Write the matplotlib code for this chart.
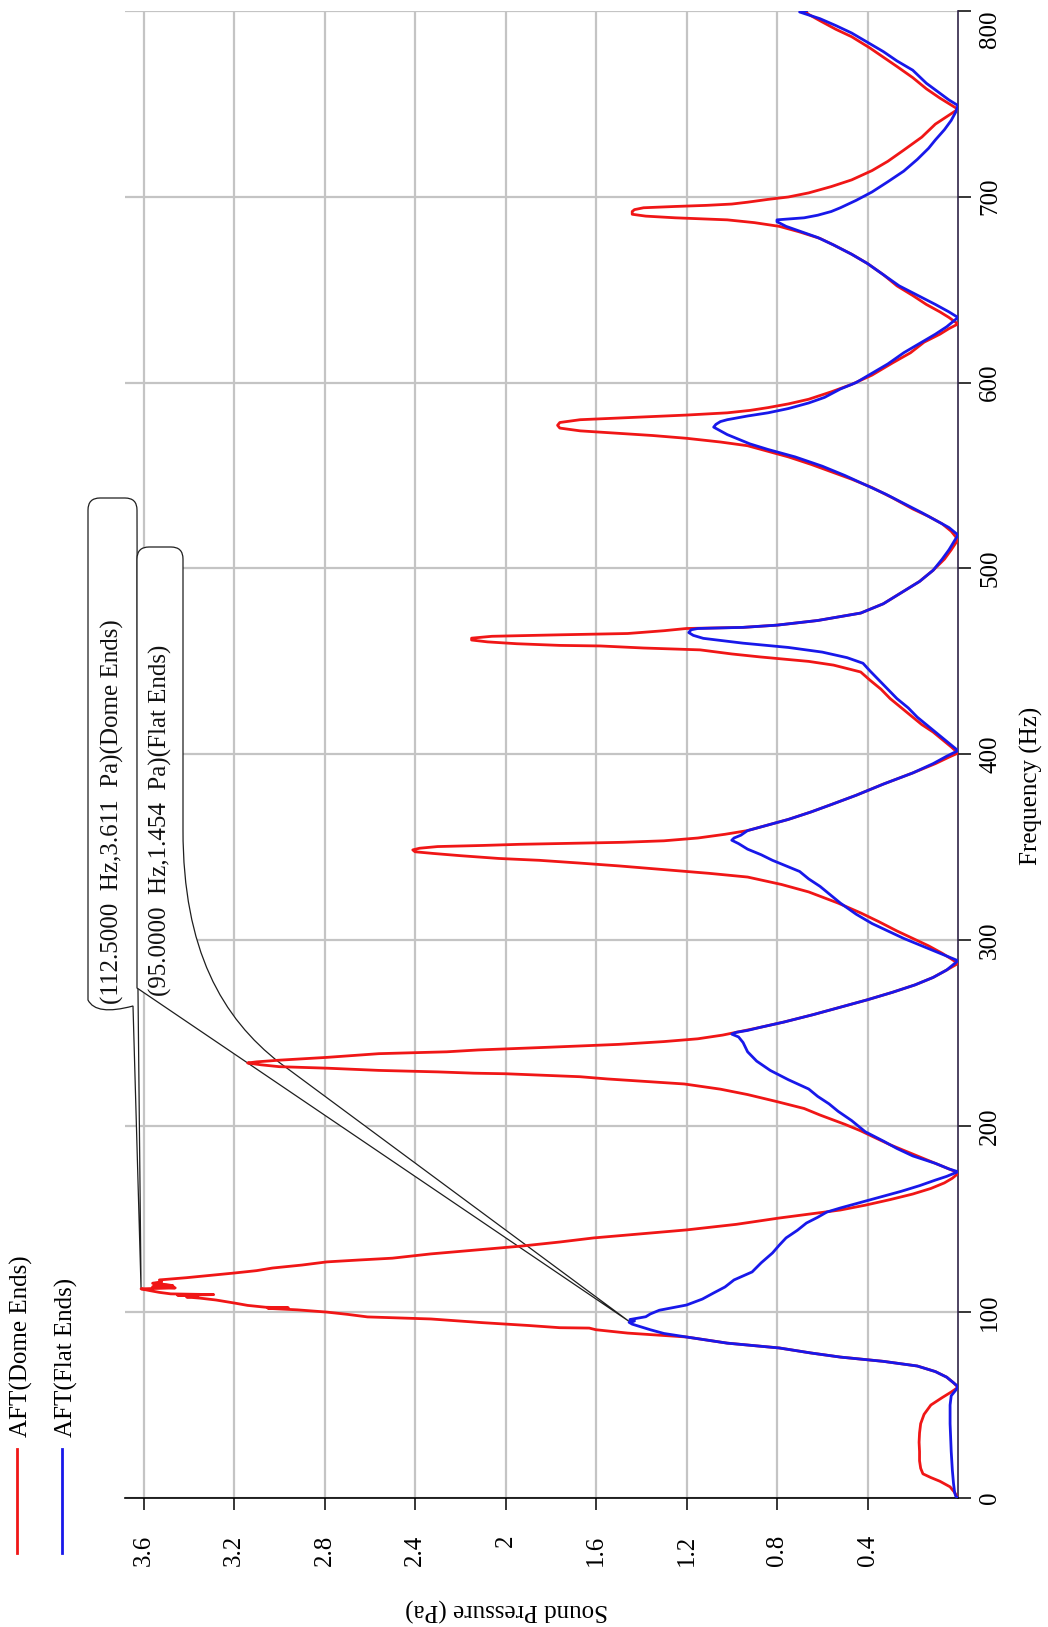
import matplotlib
matplotlib.use("Agg")
import matplotlib.pyplot as plt
from matplotlib.path import Path
from matplotlib.patches import PathPatch
from matplotlib.transforms import IdentityTransform
from matplotlib.lines import Line2D

plt.rcParams['font.family'] = ['Liberation Serif', 'DejaVu Serif']

# ---------------- data ----------------
series_names = ['AFT(Dome Ends)', 'AFT(Flat Ends)']

freq_dome = [0, 3, 6, 9, 11, 13, 16, 20, 25, 30, 35, 40, 45, 50, 54, 57, 59.5,
             62, 65, 68, 71, 73.5, 75.8, 78, 80.7, 83.3, 86.6, 88.7, 90.5, 91.4, 91.6, 92.8, 94.3,
             96.3, 97.4, 98.8, 100, 101.2, 102.0, 102.3, 102.6, 103.6, 104.9, 106.5, 107.5, 108.1,
             108.6, 109.1, 109.4, 109.8, 110.6, 111.5, 112.5, 113.0, 113.6, 114.2, 114.8, 115.5,
             116.3, 117.3, 118.5, 119.8, 121.0, 122.3, 123.7, 125.3, 127.0, 128.0, 129.0, 131.3,
             133.5, 135.5, 137.7, 139.9, 142.0, 144.2, 147.2, 150.6, 152.8, 154.9, 157.5, 160.5,
             163.5, 166.5, 169.5, 172.0, 174.5,
             176, 178, 182, 186, 190, 194, 197.5, 201, 206, 209.5, 213.2, 217, 219.9, 222.7, 224.2,
             225.4, 226.6, 227.5, 228.2, 228.5, 229.2, 230.0, 231.2, 232.0, 233.0, 234.0, 234.6,
             235.5, 237.0, 239.0, 240.0, 241.0, 242.5, 244.0, 245.5, 247.0, 249.0, 251.0, 253.0,
             256.0, 260.0, 264.0, 268.0, 272.0, 276.0, 280.0, 284.0, 287.5,
             290, 293, 297, 301, 305, 310, 314.7, 320, 326, 330, 334, 336, 338, 340, 341.5, 343,
             344, 345.5, 346.7, 347.6, 348.6, 349.5, 350.4, 351.0, 351.6, 352.2, 352.7, 353.5,
             355.0, 357.0, 359.0, 362.0, 365.0, 369.0, 373.0, 378.0, 384.0, 390.0, 395.0, 398.5, 400.7,
             404, 408, 412, 416, 420, 425, 430, 435, 440, 444.3, 448, 450, 452.4, 454, 456.2, 457.2,
             458.3, 458.6, 459.5, 460.5, 461.5, 462.5, 463.5, 464.3, 465.0, 466.5, 467.7, 468.3,
             469.5, 472, 476, 481, 487, 493, 499, 505, 510, 515.5,
             520, 524, 528, 532, 538, 543.5, 548, 552, 556, 560, 563, 566, 568, 570, 571.5, 572.5,
             574, 575.5, 577, 578.5, 580, 581, 581.5, 582.5, 583.7, 585, 586.5, 588.5, 591, 595,
             599, 604, 610.5, 616, 621.7, 626, 629, 631.5,
             635, 638, 642, 646.8, 652, 658, 664, 669, 674, 677.5, 681, 684, 686, 687.5, 688.6,
             689.5, 690.5, 692, 693, 694, 694.7, 695.3, 696, 697, 698.5, 699.8, 702, 705.4, 709,
             714, 719, 725, 732, 739, 743, 747,
             750, 753, 758, 764, 770, 775, 780, 786, 790, 794.6, 798, 800]
pres_dome = [0, 0.015, 0.035, 0.08, 0.12, 0.155, 0.165, 0.17, 0.17, 0.172, 0.17, 0.165, 0.15, 0.12, 0.07, 0.03, 0.0,
             0.02, 0.05, 0.1, 0.18, 0.33, 0.52, 0.65, 0.79, 1.02, 1.2, 1.46, 1.6, 1.63, 1.76, 1.9, 2.1,
             2.33, 2.61, 2.7, 2.79, 2.92, 3.05, 2.96, 3.06, 3.14, 3.2, 3.28, 3.35, 3.41,
             3.36, 3.45, 3.29, 3.48, 3.53, 3.57, 3.611, 3.46, 3.56, 3.47, 3.5, 3.56,
             3.52, 3.53, 3.41, 3.3, 3.2, 3.1, 3.03, 2.9, 2.79, 2.65, 2.5, 2.33,
             2.12, 1.93, 1.76, 1.61, 1.41, 1.2, 0.98, 0.79, 0.65, 0.52, 0.41, 0.3,
             0.2, 0.12, 0.06, 0.025, 0.0,
             0.02, 0.06, 0.14, 0.22, 0.3, 0.37, 0.43, 0.5, 0.61, 0.68, 0.8, 0.93, 1.05, 1.21, 1.4,
             1.55, 1.67, 1.85, 2.0, 2.14, 2.3, 2.56, 2.79, 3.0, 3.08, 3.14, 3.1,
             3.0, 2.79, 2.56, 2.26, 2.12, 1.8, 1.5, 1.3, 1.15, 1.04, 0.96, 0.88,
             0.77, 0.64, 0.52, 0.4, 0.29, 0.19, 0.11, 0.05, 0.0,
             0.03, 0.07, 0.13, 0.2, 0.27, 0.35, 0.43, 0.53, 0.66, 0.78, 0.93, 1.1, 1.3, 1.5, 1.67, 1.85,
             2.03, 2.2, 2.32, 2.4, 2.41, 2.38, 2.3, 2.1, 1.94, 1.7, 1.48, 1.3,
             1.15, 1.03, 0.93, 0.84, 0.75, 0.65, 0.56, 0.45, 0.33, 0.2, 0.1, 0.04, 0.0,
             0.03, 0.07, 0.11, 0.16, 0.2, 0.25, 0.3, 0.34, 0.39, 0.43, 0.55, 0.66, 0.875, 1.0, 1.14, 1.39,
             1.58, 1.76, 1.95, 2.08, 2.15, 2.15, 2.06, 1.76, 1.46, 1.3, 1.2, 0.95,
             0.8, 0.62, 0.43, 0.33, 0.25, 0.17, 0.11, 0.06, 0.03, 0.0,
             0.03, 0.07, 0.13, 0.2, 0.29, 0.38, 0.47, 0.56, 0.65, 0.75, 0.84, 0.93, 1.05, 1.2, 1.35, 1.48,
             1.67, 1.76, 1.77, 1.76, 1.67, 1.48, 1.39, 1.2, 1.02, 0.92, 0.84, 0.75, 0.66, 0.56,
             0.47, 0.38, 0.29, 0.21, 0.15, 0.08, 0.04, 0.0,
             0.04, 0.08, 0.14, 0.2, 0.27, 0.33, 0.4, 0.47, 0.55, 0.61, 0.7, 0.79, 0.9, 1.02, 1.25,
             1.38, 1.44, 1.44, 1.43, 1.39, 1.25, 1.11, 1.0, 0.93, 0.84, 0.75, 0.66, 0.56, 0.47,
             0.38, 0.31, 0.24, 0.16, 0.1, 0.05, 0.0,
             0.04, 0.08, 0.14, 0.2, 0.27, 0.33, 0.39, 0.47, 0.54, 0.61, 0.66, 0.68]

freq_flat = [0, 1, 3, 8, 15, 25, 40, 50, 55, 58, 60,
             62, 65, 68, 71, 73.5, 75.8, 78, 80.7, 83.3, 86.6, 88.5, 90.5, 92, 93.5, 94.5, 95.2, 96,
             97.5, 99, 101, 103.8, 107, 110.3, 113.5, 117.3, 121.6, 126.5, 131.8, 136, 139.9, 144,
             147.9, 151, 153.8, 156, 159, 162, 165, 168, 171, 173, 175.5,
             177, 180, 184, 188, 192, 197, 203, 208, 212, 216, 220, 225, 230, 235, 240, 245, 248,
             249.5, 250.5, 251.5, 253, 256, 260, 264, 268, 272, 276, 280, 284, 289,
             291, 294, 297, 301, 305, 309, 314, 320, 325, 329, 333, 337, 340, 343, 346, 349, 352,
             353.8, 355, 356.5, 359, 362, 365, 369, 373, 378, 384, 390, 395, 399, 402,
             405, 410, 415, 420, 425, 430, 435, 440, 445, 449, 452, 455, 457.5, 459.8, 462.4, 464,
             465.5, 467, 467.7, 468.3, 469.5, 472, 476, 481, 487, 493, 499, 505, 510, 514, 518,
             522, 526, 530, 535, 540, 545, 550, 555, 560, 564, 567, 570, 572, 574, 576, 577.5, 579,
             580, 582, 583.7, 586, 589, 592, 596.5, 600, 605, 610, 616, 621, 626, 630, 633, 635,
             638, 642, 647, 652, 658, 664, 669, 674, 678, 681, 684, 686.5, 687.5, 688.6, 690, 692,
             694, 698, 702.5, 708, 713.7, 720, 726, 730.5, 736, 741, 745.5, 749,
             752, 755.6, 761, 768, 773, 778, 783, 788, 792, 795.7, 798.5, 799.3, 800]
pres_flat = [0, 0.01, 0.015, 0.02, 0.025, 0.03, 0.035, 0.035, 0.03, 0.01, 0.0,
             0.02, 0.05, 0.1, 0.18, 0.33, 0.52, 0.65, 0.79, 1.02, 1.2, 1.3, 1.36, 1.4, 1.44, 1.454, 1.43, 1.45,
             1.38, 1.36, 1.32, 1.2, 1.13, 1.08, 1.03, 0.99, 0.91, 0.87, 0.82, 0.79, 0.76, 0.71,
             0.67, 0.62, 0.58, 0.52, 0.43, 0.34, 0.25, 0.17, 0.1, 0.05, 0.0,
             0.04, 0.1, 0.2, 0.27, 0.33, 0.41, 0.47, 0.53, 0.57, 0.62, 0.66, 0.75, 0.83, 0.89, 0.93, 0.95, 0.97,
             1.0, 0.98, 0.93, 0.88, 0.77, 0.64, 0.52, 0.4, 0.29, 0.19, 0.11, 0.05, 0.0,
             0.04, 0.1, 0.16, 0.24, 0.31, 0.38, 0.45, 0.52, 0.57, 0.61, 0.66, 0.7, 0.76, 0.82, 0.87, 0.93, 0.97,
             1.0, 0.99, 0.96, 0.93, 0.84, 0.75, 0.65, 0.56, 0.45, 0.33, 0.2, 0.11, 0.05, 0.0,
             0.03, 0.08, 0.13, 0.18, 0.22, 0.27, 0.31, 0.35, 0.39, 0.42, 0.49, 0.6, 0.75, 0.95, 1.126, 1.17,
             1.19, 1.18, 1.15, 0.95, 0.8, 0.62, 0.43, 0.33, 0.25, 0.17, 0.11, 0.07, 0.04, 0.02, 0.0,
             0.04, 0.1, 0.16, 0.24, 0.32, 0.41, 0.5, 0.6, 0.72, 0.84, 0.92, 0.98, 1.02, 1.05, 1.08, 1.07, 1.05,
             1.02, 0.93, 0.84, 0.75, 0.66, 0.59, 0.52, 0.45, 0.38, 0.31, 0.24, 0.17, 0.1, 0.05, 0.02, 0.0,
             0.04, 0.1, 0.18, 0.26, 0.33, 0.4, 0.47, 0.55, 0.62, 0.69, 0.76, 0.8, 0.8, 0.68, 0.62, 0.56,
             0.52, 0.45, 0.38, 0.31, 0.24, 0.18, 0.13, 0.1, 0.06, 0.03, 0.01, 0.0,
             0.04, 0.08, 0.14, 0.2, 0.27, 0.33, 0.4, 0.47, 0.54, 0.61, 0.68, 0.7, 0.67]

pressure_ticks = [3.6, 3.2, 2.8, 2.4, 2.0, 1.6, 1.2, 0.8, 0.4]
pressure_labels = ['3.6', '3.2', '2.8', '2.4', '2', '1.6', '1.2', '0.8', '0.4']
freq_ticks = [0, 100, 200, 300, 400, 500, 600, 700, 800]
freq_labels = ['0', '100', '200', '300', '400', '500', '600', '700', '800']

peak_dome = (112.5, 3.611)
peak_flat = (95.0, 1.454)

# ---------------- figure ----------------
W, H, DPI = 1048, 1627, 100
RED = '#f01616'
BLUE = '#1818ea'
FS = 18

fig = plt.figure(figsize=(W / DPI, H / DPI), dpi=DPI)
ax = fig.add_axes([125 / W, (H - 1498) / H, (958 - 125) / W, (1498 - 10.7) / H])
ax.autoscale(False)

ax.plot(pres_dome, freq_dome, color=RED, lw=2.0, zorder=3)
ax.plot(pres_flat, freq_flat, color=BLUE, lw=2.0, zorder=3.1)

ax.set_xlim(3.682, 0)
ax.set_ylim(0, 800)

ax.set_xticks(pressure_ticks)
ax.set_xticklabels(pressure_labels, rotation=90)
ax.yaxis.tick_right()
ax.set_yticks(freq_ticks)
ax.set_yticklabels(freq_labels, rotation=90, va='center')
ax.tick_params(axis='x', direction='out', length=8.6, width=1.1, pad=18, labelsize=FS, colors='black')
ax.tick_params(axis='y', direction='out', length=9.4, width=1.1, pad=5.8, labelsize=FS, colors='black')
# keep the top frequency label inside the picture, as in the reference
ax.get_yticklabels()[-1].set_verticalalignment('top')

ax.set_axisbelow(True)
ax.grid(True, color='#c4c4c4', lw=1.6)
for s in ('left', 'top'):
    ax.spines[s].set_visible(False)
ax.spines['right'].set_color('#302448')
ax.spines['right'].set_linewidth(1.2)
ax.spines['bottom'].set_color('black')
ax.spines['bottom'].set_linewidth(1.2)


def px(x, y):
    """image pixel (from top-left) -> display coords"""
    return (x, H - y)


# ---------------- callout bubbles ----------------
tip_d = ax.transData.transform((peak_dome[1], peak_dome[0]))
tip_f = ax.transData.transform((peak_flat[1], peak_flat[0]))

M, L, C3, C4, CL = Path.MOVETO, Path.LINETO, Path.CURVE3, Path.CURVE4, Path.CLOSEPOLY

verts1 = [px(88, 1000), px(88, 510), px(88, 498), px(100, 498), px(125, 498), px(137, 498),
          px(137, 510), px(138, 992), tuple(tip_d), px(133, 1006), px(96, 1016), px(88, 1000),
          px(88, 1000)]
codes1 = [M, L, C3, C3, L, C3, C3, L, L, L, C3, C3, CL]
ax.add_patch(PathPatch(Path(verts1, codes1), transform=IdentityTransform(), facecolor='white',
                       edgecolor='#1e1e1e', lw=0.9, zorder=2, clip_on=False))

verts2 = [px(137, 988), px(137, 559), px(137, 547), px(149, 547), px(171, 547), px(183, 547),
          px(183, 559), px(183, 830), px(183, 950), px(222, 1018), px(280, 1063), tuple(tip_f),
          px(137, 988)]
codes2 = [M, L, C3, C3, L, C3, C3, L, C4, C4, C4, L, CL]
ax.add_patch(PathPatch(Path(verts2, codes2), transform=IdentityTransform(), facecolor='white',
                       edgecolor='#1e1e1e', lw=0.9, zorder=2, clip_on=False))

txt_d = '({:.4f}  Hz,{:.3f}  Pa)(Dome Ends)'.format(*peak_dome)
txt_f = '({:.4f}  Hz,{:.3f}  Pa)(Flat Ends)'.format(*peak_flat)
ax.text(*px(112, 1004), txt_d, transform=IdentityTransform(), rotation=90, ha='center',
        va='bottom', fontsize=FS, color='#111111', zorder=4, clip_on=False)
ax.text(*px(160, 996), txt_f, transform=IdentityTransform(), rotation=90, ha='center',
        va='bottom', fontsize=FS, color='#111111', zorder=4, clip_on=False)

# ---------------- axis titles ----------------
fig.text(1031 / W, 1 - 786 / H, 'Frequency (Hz)', rotation=90, ha='center', va='center', fontsize=FS)
fig.text(507 / W, 1 - 1610 / H, 'Sound Pressure (Pa)', rotation=180, ha='center', va='center',
         fontsize=FS)

# ---------------- legend ----------------
for xc, col, name in [(17, RED, series_names[0]), (62, BLUE, series_names[1])]:
    fig.add_artist(Line2D([xc / W, xc / W], [1 - 1449 / H, 1 - 1553 / H], transform=fig.transFigure,
                          color=col, lw=2.0))
    fig.text((xc + 4) / W, 1 - 1437 / H, name, rotation=90, ha='center', va='bottom', fontsize=FS)

fig.savefig('out.png', dpi=DPI, facecolor='white')
